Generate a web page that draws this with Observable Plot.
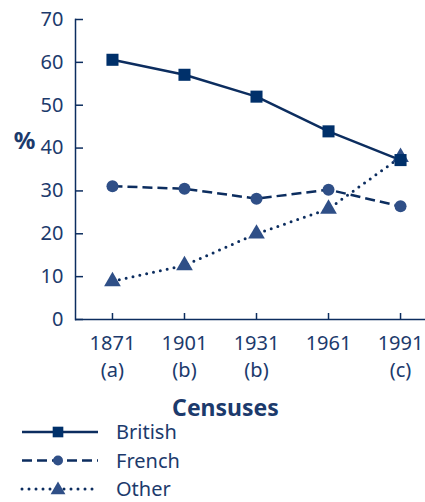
<!DOCTYPE html>
<html><head><meta charset="utf-8">
<script src="https://cdn.jsdelivr.net/npm/d3@7"></script>
<script src="https://cdn.jsdelivr.net/npm/@observablehq/plot@0.6"></script>
<style>
body{margin:0;background:#fff;}
#chart{width:425px;height:502px;position:relative;}
#chart svg{display:block;}
</style>
</head><body><div id="chart"></div>
<script>
const years = [1871, 1901, 1931, 1961, 1991];
const yearNotes = ["(a)", "(b)", "(b)", "", "(c)"];
const british = [60.6, 57.1, 52.0, 43.9, 37.2];
const french = [31.1, 30.5, 28.2, 30.3, 26.4];
const other = [8.9, 12.6, 20.0, 25.8, 37.9];
const yTicks = [0, 10, 20, 30, 40, 50, 60, 70];
const seriesNames = ["British", "French", "Other"];
const seriesValues = [british, french, other];
const seriesSymbols = ["square", "circle", "triangle"];
const seriesDash = [null, "10,5", "0,7"];
const seriesMarkerFill = ["#00306a", "#2f4f87", "#2f4f87"];

const lineColor = "#0c2d5f";
const textColor = "#1c3a6c";

const W = 425, H = 420, mL = 75, mR = 0, mT = 19, mB = 101;

const rows = [];
seriesNames.forEach((s, k) => years.forEach((yr, i) => rows.push({series: s, k, year: yr, value: seriesValues[k][i]})));

const marks = [
  Plot.frame({anchor: "left", stroke: lineColor, strokeWidth: 1.5}),
  Plot.ruleY([0], {stroke: lineColor, strokeWidth: 1.5}),
  // inward ticks
  Plot.tickY(yTicks, {y: d => d, stroke: lineColor, strokeWidth: 1.5, insetRight: W - mL - mR - 8}),
  Plot.tickX(years, {x: d => d, stroke: lineColor, strokeWidth: 1.5, insetTop: H - mT - mB - 6}),
  Plot.axisY(yTicks, {label: null, tickSize: 0, tickPadding: 12, fill: textColor, fontSize: 20}),
  Plot.axisX(years, {label: null, tickSize: 0, tickPadding: 11, fill: textColor, fontSize: 20, lineHeight: 1.35,
    tickFormat: (d) => { const i = years.indexOf(d); return yearNotes[i] ? `${d}\n${yearNotes[i]}` : `${d}`; }}),
  Plot.text(["%"], {frameAnchor: "left", textAnchor: "middle", lineAnchor: "middle", dx: -51, dy: -28, fontWeight: "bold", fontSize: 24, fill: textColor}),
  Plot.text(["Censuses"], {frameAnchor: "bottom", textAnchor: "middle", lineAnchor: "middle", dx: -25, dy: 89, fontWeight: "bold", fontSize: 23, fill: textColor})
];
// lines: Other, French, British
[2, 1, 0].forEach(k => {
  marks.push(Plot.line(rows.filter(r => r.k === k), {x: "year", y: "value", stroke: lineColor, strokeWidth: k === 2 ? 3 : 2.5,
    strokeDasharray: seriesDash[k], strokeLinecap: k === 2 ? "round" : "butt"}));
});
[2, 1, 0].forEach(k => {
  marks.push(Plot.dot(rows.filter(r => r.k === k), {x: "year", y: "value", symbol: () => seriesSymbols[k], r: k === 0 ? 6.8 : k === 1 ? 6 : 6.2, fill: seriesMarkerFill[k], stroke: "none"}));
});

const chart = Plot.plot({
  width: W, height: H,
  marginLeft: mL, marginRight: mR, marginTop: mT, marginBottom: mB,
  x: {domain: [1855.6, 2001.4], axis: null},
  y: {domain: [0, 70], axis: null},
  symbol: {type: "identity"},
  style: {fontFamily: "'Noto Sans', sans-serif", fontSize: "20px", color: textColor, background: "#fff", overflow: "visible"},
  marks
});
document.getElementById("chart").appendChild(chart);

// legend (overlaps the bottom 10px of the plot's transparent area)
const leg = d3.create("svg").attr("width", 425).attr("height", 92)
  .style("display", "block").style("margin-top", "-10px").style("position", "relative")
  .style("font-family", "'Noto Sans', sans-serif");
const symGen = [d3.symbolSquare, d3.symbolCircle, d3.symbolTriangle];
const symSize = [Math.PI * 6 * 6, Math.PI * 5 * 5, Math.PI * 5.5 * 5.5];
seriesNames.forEach((s, k) => {
  const g = leg.append("g").attr("transform", `translate(0,${22 + k * 28.5})`);
  g.append("line").attr("x1", 22).attr("x2", 98).attr("y1", 0).attr("y2", 0)
    .attr("stroke", lineColor).attr("stroke-width", k === 2 ? 3 : 2.5)
    .attr("stroke-dasharray", seriesDash[k]).attr("stroke-linecap", k === 2 ? "round" : "butt");
  g.append("path").attr("d", d3.symbol(symGen[k], symSize[k])()).attr("transform", `translate(58,${k === 2 ? 1 : 0})`)
    .attr("fill", seriesMarkerFill[k]);
  g.append("text").attr("x", 116).attr("y", 0).attr("dy", "0.35em").attr("font-size", 20).attr("fill", textColor).text(s);
});
document.getElementById("chart").appendChild(leg.node());
</script>
</body></html>
